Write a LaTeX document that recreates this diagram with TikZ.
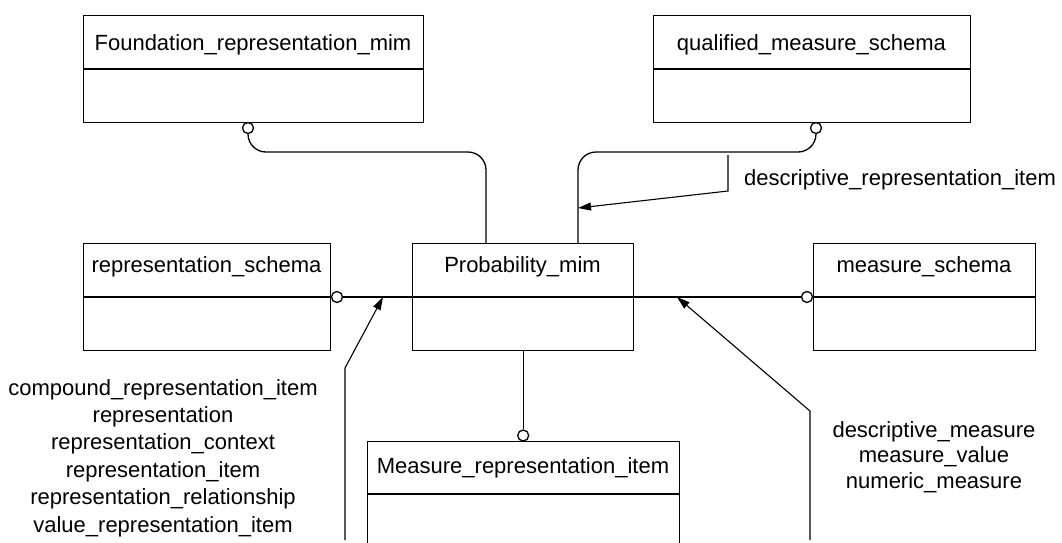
\documentclass[tikz,border=0pt]{standalone}
\usepackage{fontspec}
\setmainfont{Liberation Sans}
\usetikzlibrary{arrows.meta,calc}
\begin{document}
\begin{tikzpicture}[x=1pt,y=-1pt,
  box/.style={draw,line width=1.4pt,inner sep=0pt,anchor=north west},
  lbl/.style={inner sep=0pt,anchor=base,font=\fontsize{22}{26}\selectfont},
  ring/.style={circle,draw,line width=1.3pt,fill=white,minimum size=11pt,inner sep=0pt},
  conn/.style={line width=1.3pt},
  arr/.style={line width=1.1pt,-{Triangle[length=13pt,width=8pt]}}]
\useasboundingbox (0,0) rectangle (1062,542);
\clip (0,0) rectangle (1062,542);
% boxes
\node[box,minimum width=340pt,minimum height=107pt] (found) at (83,15) {};
\node[box,minimum width=317pt,minimum height=107pt] (qual) at (653,15) {};
\node[box,minimum width=247pt,minimum height=107pt] (rep) at (83,243) {};
\node[box,minimum width=221pt,minimum height=107pt] (prob) at (412,243) {};
\node[box,minimum width=222pt,minimum height=107pt] (meas) at (813,243) {};
\node[box,minimum width=312pt,minimum height=130pt] (mrep) at (367,441) {};
% dividers
\foreach \b/\d in {found/54,qual/54,rep/54,prob/54,meas/54,mrep/53}
  \draw[line width=1.4pt] ($(\b.north west)+(0,\d)$) -- ($(\b.north east)+(0,\d)$);
% labels in boxes
\node[lbl] (tf) at (253,50) {Foundation\_representation\_mim};
\node[lbl] (tq) at (811.5,50) {qualified\_measure\_schema};
\node[lbl] (tr) at (206.5,272) {representation\_schema};
\node[lbl] (tp) at (522.5,272) {Probability\_mim};
\node[lbl] (tm) at (924,272) {measure\_schema};
\node[lbl] (tmr) at (523,473) {Measure\_representation\_item};
% rings
\node[ring] (fc) at (248,128) {};
\node[ring] (qc) at (816,128) {};
\node[ring] (rc) at (337,297) {};
\node[ring] (mc) at (807,297) {};
\node[ring] (mrc) at (prob.south |- 0,435.5) {};
% connectors
\draw[conn,rounded corners=18pt] (fc.south) |- ($(prob.north west)+(74,-91)$) -- ($(prob.north west)+(74,0)$);
\draw[conn,rounded corners=18pt] (qc.south) |- ($(prob.north west)+(166,-91)$) -- ($(prob.north west)+(166,0)$);
\draw[conn] (rc.east) -- (mc.west);
\draw[conn] (prob.south) -- (mrc.north);
% arrows
\coordinate (a0) at (728,155);
\coordinate (a1) at (578,208);
\draw[arr] (a0) -- (728,191) -- (a1);
\coordinate (b0) at (345,540);
\coordinate (b1) at (383,297);
\draw[arr] (b0) -- (345,368) -- (b1);
\coordinate (c0) at (810,540);
\coordinate (c1) at (677,297);
\draw[arr] (c0) -- (810,411) -- (c1);
% free labels
\node[lbl] (ld) at (900,185) {descriptive\_representation\_item};
\node[lbl,anchor=north,align=center,font=\fontsize{22}{27.4}\selectfont] (ll) at (163,379) {compound\_representation\_item\\representation\\representation\_context\\representation\_item\\representation\_relationship\\value\_representation\_item};
\node[lbl,anchor=north,align=center,font=\fontsize{22}{25.5}\selectfont] (lr) at (934,421) {descriptive\_measure\\measure\_value\\numeric\_measure};
\end{tikzpicture}
\end{document}
